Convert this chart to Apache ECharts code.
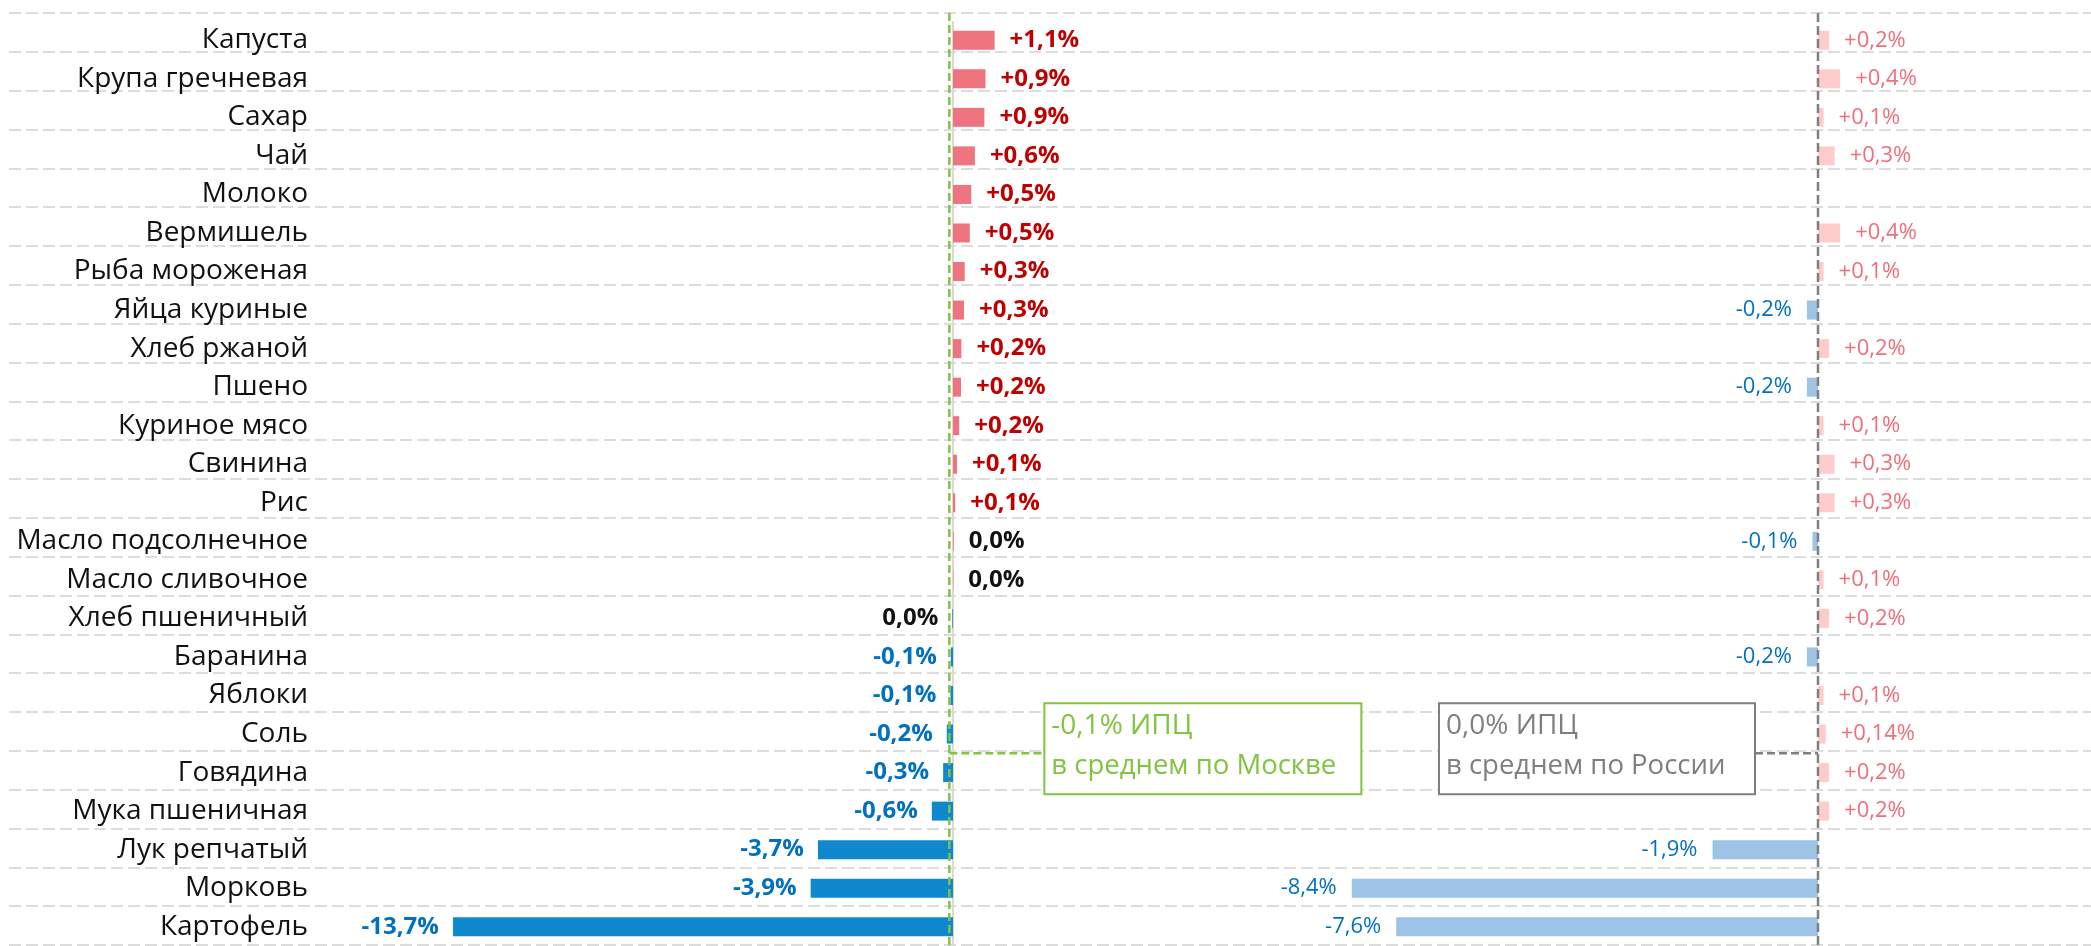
<!DOCTYPE html>
<html><head><meta charset="utf-8">
<script src="https://cdn.jsdelivr.net/npm/echarts@6/dist/echarts.min.js"></script>
<style>html,body{margin:0;padding:0;background:#fff}#c{width:2091px;height:946px}</style>
</head><body><div id="c"></div>
<script>
const categories = ['Капуста','Крупа гречневая','Сахар','Чай','Молоко','Вермишель','Рыба мороженая','Яйца куриные','Хлеб ржаной','Пшено','Куриное мясо','Свинина','Рис','Масло подсолнечное','Масло сливочное','Хлеб пшеничный','Баранина','Яблоки','Соль','Говядина','Мука пшеничная','Лук репчатый','Морковь','Картофель'];
const moscow = [1.14,0.89,0.86,0.6,0.5,0.46,0.32,0.3,0.23,0.22,0.17,0.11,0.06,0.02,0.01,-0.02,-0.06,-0.07,-0.17,-0.27,-0.58,-3.7,-3.9,-13.7];
const russia = [0.2,0.4,0.1,0.3,0,0.4,0.1,-0.2,0.2,-0.2,0.1,0.3,0.3,-0.1,0.1,0.2,-0.2,0.1,0.14,0.2,0.2,-1.9,-8.4,-7.6];
const cpiMoscow = -0.1;
const cpiRussia = 0.0;
const boxMoscow = ['-0,1% ИПЦ','в среднем по Москве'];
const boxRussia = ['0,0% ИПЦ','в среднем по России'];

const FONT = 'Open Sans';
function fmt1(v){ if (Math.abs(v) < 0.05) return '0,0%'; return (v>0?'+':'') + v.toFixed(1).replace('.',',') + '%'; }
function fmtR(v){ if (v === 0) return ''; const d = (Math.round(Math.abs(v)*100)%10 !== 0) ? 2 : 1; return (v>0?'+':'') + v.toFixed(d).replace('.',',') + '%'; }

const mData = moscow.map(v => ({
  value: v,
  itemStyle: {color: v >= 0 ? '#ee7580' : '#0f88cd'},
  label: {position: v >= 0 ? 'right' : 'left', distance: v>=0?15:14,
    color: Math.abs(v) < 0.05 ? '#111' : (v > 0 ? '#c00000' : '#0070c0')}
}));
const rData = russia.map(v => ({
  value: v,
  itemStyle: {color: v >= 0 ? '#ffcccc' : '#9dc3e6'},
  label: {position: v >= 0 ? 'right' : 'left', distance: 15,
    color: v > 0 ? '#ee6f7b' : '#0070c0'}
}));

const BT = 21, BH = 925;
const chart = echarts.init(document.getElementById('c'), null, {renderer:'canvas'});
chart.setOption({
  animation: false,
  grid: [
    {left: 442, width: 620.5, top: BT, height: BH},
    {left: 1318.5, width: 555, top: BT, height: BH},
    {left: 9, right: 0, top: 13, height: 932}
  ],
  xAxis: [
    {gridIndex:0, type:'value', min:-14, max:3, show:false},
    {gridIndex:1, type:'value', min:-9, max:1, show:false},
    {gridIndex:2, type:'value', min:0, max:1, show:false}
  ],
  yAxis: [
    {gridIndex:0, type:'category', data:categories, inverse:true,
      axisLine:{show:false}, axisTick:{show:false}, splitLine:{show:false},
      axisLabel:{margin:134, fontFamily:FONT, fontSize:28, color:'#111'}},
    {gridIndex:1, type:'category', data:categories, inverse:true, show:false},
    {gridIndex:2, type:'category', data:categories, inverse:true,
      axisLine:{show:false}, axisTick:{show:false}, axisLabel:{show:false},
      splitLine:{show:true, interval:0, lineStyle:{color:'#dcdcdc', width:2, type:[12,5]}}}
  ],
  series: [
    {type:'bar', xAxisIndex:0, yAxisIndex:0, data:mData, barWidth:19, z:3,
      label:{show:true, fontFamily:FONT, fontSize:24, fontWeight:'bold', formatter:p=>fmt1(p.value)},
      markLine:{silent:true, symbol:'none', label:{show:false}, z:2,
        lineStyle:{color:'#d9d9d9', width:2, type:'solid'}, data:[{xAxis:0}]}},
    {type:'bar', xAxisIndex:1, yAxisIndex:1, data:rData, barWidth:19, z:3,
      label:{show:true, fontFamily:FONT, fontSize:22, formatter:p=>fmtR(p.value)}}
  ]
});

const mx = chart.convertToPixel({xAxisIndex:0}, cpiMoscow);
const rx = chart.convertToPixel({xAxisIndex:1}, cpiRussia);
const iS = categories.indexOf('Соль');
const ya = chart.convertToPixel({yAxisIndex:0}, categories[iS]);
const yb = chart.convertToPixel({yAxisIndex:0}, categories[iS+1]);
const yB = (ya + yb) / 2;
const lineTop = 13, lineBot = 946;
const green = '#82c341', gray = '#7f7f7f';
const gBoxL = mx + 95, gBoxW = 317;
const rBoxW = 316, rBoxL = rx - 63 - rBoxW;
const bTop = yB - 50, bH = 91;
function boxText(x, lines, color){
  return [
    {type:'text', left:x+7, top:bTop+9, z:20, style:{text:lines[0], font:'28px "'+FONT+'"', fill:color}},
    {type:'text', left:x+7, top:bTop+49, z:20, style:{text:lines[1], font:'27.5px "'+FONT+'"', fill:color}}
  ];
}
chart.setOption({graphic:[
  {type:'line', z:10, shape:{x1:mx, y1:lineTop, x2:mx, y2:lineBot}, style:{stroke:green, lineWidth:2.5, lineDash:[8,4]}},
  {type:'line', z:10, shape:{x1:rx, y1:lineTop, x2:rx, y2:lineBot}, style:{stroke:gray, lineWidth:2.5, lineDash:[9,4]}},
  {type:'line', z:10, shape:{x1:mx, y1:yB, x2:gBoxL, y2:yB}, style:{stroke:green, lineWidth:2.5, lineDash:[8,4]}},
  {type:'line', z:10, shape:{x1:rBoxL+rBoxW, y1:yB, x2:rx, y2:yB}, style:{stroke:gray, lineWidth:2.5, lineDash:[8,4]}},
  {type:'rect', z:15, shape:{x:gBoxL, y:bTop, width:gBoxW, height:bH}, style:{fill:'#fff', stroke:green, lineWidth:2}},
  {type:'rect', z:15, shape:{x:rBoxL, y:bTop, width:rBoxW, height:bH}, style:{fill:'#fff', stroke:gray, lineWidth:2}},
  ...boxText(gBoxL, boxMoscow, green),
  ...boxText(rBoxL, boxRussia, gray)
]});
</script></body></html>
